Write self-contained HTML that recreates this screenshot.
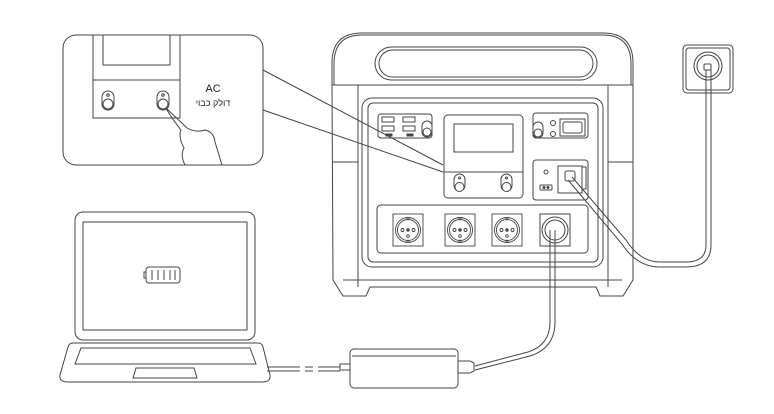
<!DOCTYPE html>
<html><head><meta charset="utf-8"><style>
html,body{margin:0;padding:0;background:#fff;width:774px;height:414px;overflow:hidden}
svg{display:block}
text{font-family:"Liberation Sans","Noto Sans CJK SC",sans-serif;fill:#222}
</style></head><body>
<svg width="774" height="414" viewBox="0 0 774 414" fill="none" stroke="#444" stroke-width="1">
<!-- Callout box -->
<rect x="63" y="35" width="200" height="130" rx="13" fill="#fff"/>
<path d="M93 35V118H180V35M93 80H180M103 35V65H170V35"/>
<g><rect x="102" y="91" width="12" height="19" rx="6"/><circle cx="108" cy="104" r="5" fill="#fff"/><circle cx="108" cy="95" r="1.3"/></g>
<g><rect x="157" y="91" width="12" height="19" rx="6"/><circle cx="163" cy="104" r="5" fill="#fff"/><circle cx="163" cy="95" r="1.3"/></g>
<path d="M166 108L187 128Q196 133 205 130Q214 132 215 142L222 165M166 108Q170 116 181 130Q178 137 184 148Q180 155 185 165"/>
<text x="213" y="92" font-size="11" text-anchor="middle" stroke="none">AC</text>
<text x="213" y="106" font-size="9" text-anchor="middle" stroke="none">דולק כבוי</text>
<path d="M263 70L443 165M263 110L443 172"/>
<!-- Power station -->
<path d="M332 85V63Q332 33 362 33H603Q633 33 633 63V85"/>
<path d="M334 85V64Q334 35 362 35H603Q631 35 631 64V85"/>
<rect x="375" y="47" width="222" height="33" rx="16.5"/>
<rect x="379" y="50" width="214" height="27" rx="13.5"/>
<path d="M332 85H633V280L623 296H600L596 287H370L366 296H343L333 280Z"/>
<path d="M358 85V287M608 85V287M332 162H358M608 162H633M343 280H622"/>
<rect x="362" y="98" width="241" height="169" rx="10"/>
<rect x="368" y="103" width="230" height="159" rx="5"/>
<!-- USB -->
<rect x="378" y="114" width="54" height="24" rx="3"/>
<rect x="382" y="117" width="12" height="5"/><rect x="403" y="117" width="12" height="5"/>
<rect x="382" y="126" width="12" height="5"/><rect x="403" y="126" width="12" height="5"/>
<rect x="386" y="134" width="6" height="2" fill="#444"/><rect x="407" y="134" width="6" height="2" fill="#444"/>
<rect x="422" y="121" width="10" height="16" rx="5"/><circle cx="427" cy="132" r="4"/>
<!-- display -->
<rect x="444" y="115" width="79" height="83" rx="4"/>
<rect x="454" y="124" width="59" height="28"/>
<path d="M444 172H523"/>
<rect x="454" y="174" width="11" height="17" rx="5.5"/><circle cx="459.5" cy="187" r="4.5" fill="#fff"/><circle cx="459.5" cy="178" r="1"/>
<rect x="501" y="174" width="11" height="17" rx="5.5"/><circle cx="506.5" cy="187" r="4.5" fill="#fff"/><circle cx="506.5" cy="178" r="1"/>
<!-- right top -->
<rect x="533" y="113" width="55" height="25" rx="3"/>
<rect x="533" y="122" width="10" height="16" rx="5"/><circle cx="538" cy="133" r="4"/>
<circle cx="553" cy="123" r="2.5"/><circle cx="553" cy="134" r="2.5"/>
<rect x="560" y="119" width="25" height="17"/><rect x="563" y="122" width="19" height="11" rx="2"/>
<!-- right middle -->
<rect x="533" y="160" width="55" height="40" rx="3"/>
<circle cx="546" cy="172" r="2"/>
<rect x="540" y="185" width="12" height="5" rx="1"/><circle cx="544" cy="187.5" r="1" fill="#444"/><circle cx="548" cy="187.5" r="1" fill="#444"/>
<rect x="558" y="166" width="24" height="27"/><rect x="582" y="167" width="4" height="22"/>
<rect x="565" y="171" width="10" height="10" rx="2"/>
<!-- sockets -->
<rect x="377" y="205" width="211" height="48" rx="4"/>
<g id="s" stroke-width="0.9"><rect x="393" y="214" width="30" height="32"/><circle cx="408" cy="230" r="12.5"/><circle cx="408" cy="230" r="10.5"/><circle cx="402.5" cy="230" r="1.5"/><circle cx="413.5" cy="230" r="1.5"/><circle cx="408" cy="230" r="1.3" fill="#444"/><circle cx="408" cy="236" r="1.3"/><path d="M406 217L408 220L410 217M406 243L408 240L410 243"/></g>
<use href="#s" x="52"/><use href="#s" x="99"/>
<rect x="540" y="214" width="30" height="32"/><circle cx="555" cy="230" r="13"/><circle cx="555" cy="230" r="10"/>
<!-- cable to adapter -->
<path d="M550 230V322Q550 345 528 352L475 366M555 230V322Q555 348 530 356L475 370"/>
<!-- adapter -->
<rect x="350" y="349" width="108" height="39" rx="4"/>
<path d="M352 356H456"/>
<path d="M458 361H470L474 363V371L470 373H458"/>
<rect x="340" y="364" width="10" height="6"/>
<path d="M267 367H300M305 367H313M318 367H340M267 371H300M305 371H313M318 371H340"/>
<!-- wall outlet & cable -->
<rect x="683" y="45" width="50" height="48" rx="4"/><rect x="686" y="48" width="44" height="42" rx="3"/>
<circle cx="708" cy="66" r="14"/><circle cx="708" cy="66" r="11"/>
<rect x="704" y="64" width="7" height="6" rx="1"/>
<path d="M706 70V245Q706 262 686 262H660Q640 262 626 240L572 177M711 70V245Q711 267 686 267H660Q637 267 622 244L568 180"/>
<!-- laptop -->
<rect x="75" y="212" width="180" height="128" rx="8"/>
<rect x="83" y="222" width="164" height="108"/>
<rect x="146" y="267" width="34" height="16" rx="3"/><rect x="144" y="272" width="2" height="6"/>
<path d="M152 270V280M158 270V280M164 270V280M170 270V280M175 270V280"/>
<path d="M73 343H258Q262 343 263 347L270 375Q271 382 262 382H68Q59 382 60 375L68 347Q69 343 73 343Z"/>
<path d="M81 348H250L256 364H75Z"/>
<path d="M136 368H194L197 378H133Z"/>
</svg>
</body></html>
